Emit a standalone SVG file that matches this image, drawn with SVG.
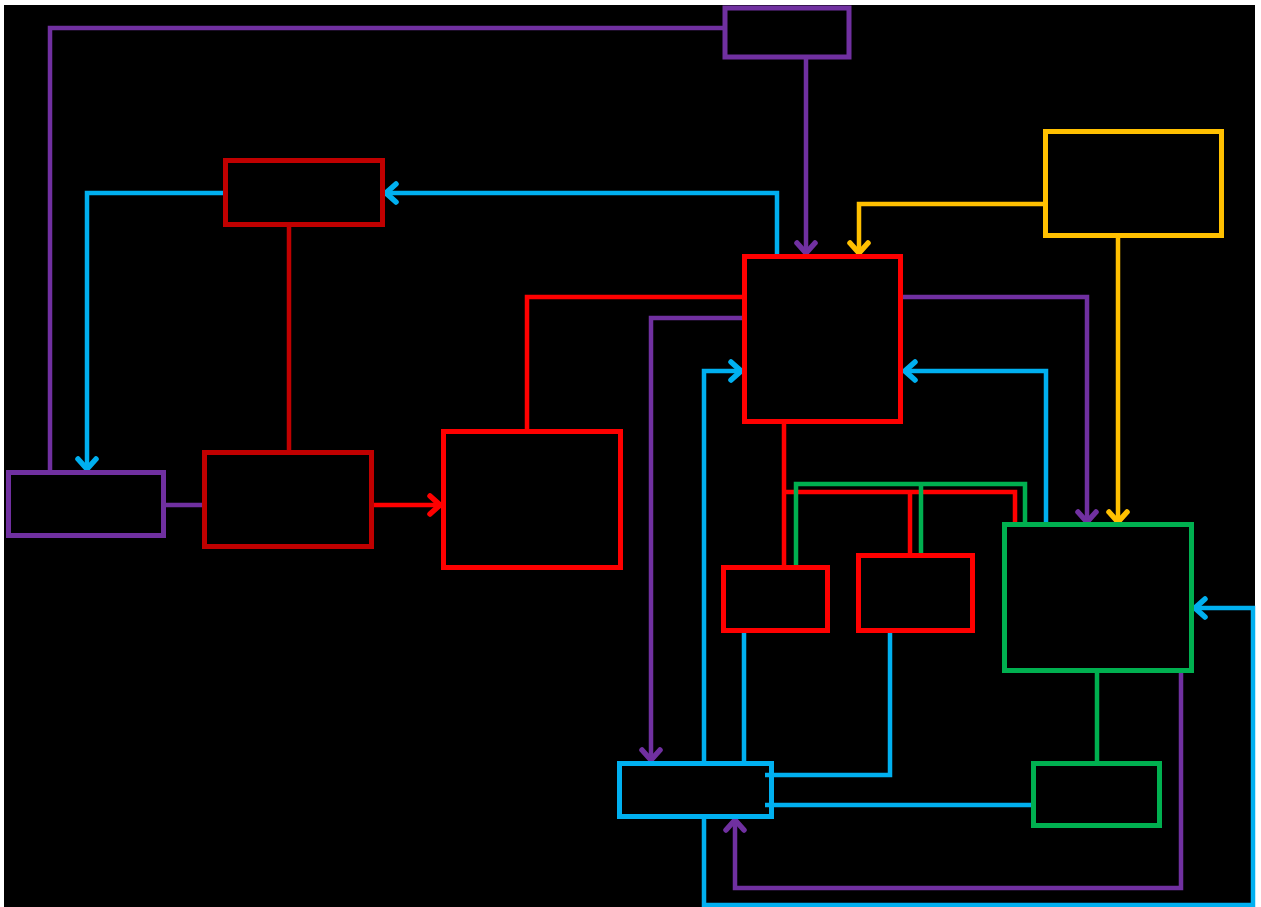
<svg xmlns="http://www.w3.org/2000/svg" width="1261" height="907" viewBox="0 0 1261 907">
<style>
.box{fill:none;stroke-width:5}
.c{fill:none;stroke-width:4.5;stroke-linejoin:miter}
.pu{stroke:#7030A0}.cy{stroke:#00B0F0}.rd{stroke:#FF0000}.dr{stroke:#C00000}.gr{stroke:#00B050}.ye{stroke:#FFC000}
</style>
<defs>
<marker id="aPu" viewBox="-14 -12 16 24" markerWidth="16" markerHeight="24" refX="0" refY="0" orient="auto" markerUnits="userSpaceOnUse"><path d="M-10,-9 L0,0 L-10,9" fill="none" stroke="#7030A0" stroke-width="5.5" stroke-linecap="round" stroke-linejoin="miter"/></marker>
<marker id="aCy" viewBox="-14 -12 16 24" markerWidth="16" markerHeight="24" refX="0" refY="0" orient="auto" markerUnits="userSpaceOnUse"><path d="M-10,-9 L0,0 L-10,9" fill="none" stroke="#00B0F0" stroke-width="5.5" stroke-linecap="round" stroke-linejoin="miter"/></marker>
<marker id="aRd" viewBox="-14 -12 16 24" markerWidth="16" markerHeight="24" refX="0" refY="0" orient="auto" markerUnits="userSpaceOnUse"><path d="M-10,-9 L0,0 L-10,9" fill="none" stroke="#FF0000" stroke-width="5.5" stroke-linecap="round" stroke-linejoin="miter"/></marker>
<marker id="aYe" viewBox="-14 -12 16 24" markerWidth="16" markerHeight="24" refX="0" refY="0" orient="auto" markerUnits="userSpaceOnUse"><path d="M-10,-9 L0,0 L-10,9" fill="none" stroke="#FFC000" stroke-width="5.5" stroke-linecap="round" stroke-linejoin="miter"/></marker>
</defs>
<rect x="0" y="0" width="1261" height="907" fill="#FFFFFF"/>
<rect x="4" y="5" width="1251" height="902" fill="#000000"/>
<g id="connectors">
<path class="c pu" d="M725,28 H50 V472"/>
<path class="c pu" d="M806,57 V253" marker-end="url(#aPu)"/>
<path class="c ye" d="M1045,204 H859 V253" marker-end="url(#aYe)"/>
<path class="c ye" d="M1118,236 V522" marker-end="url(#aYe)"/>
<path class="c cy" d="M777,256 V193 H386" marker-end="url(#aCy)"/>
<path class="c cy" d="M225,193 H87 V469" marker-end="url(#aCy)"/>
<path class="c pu" d="M164,505 H204"/>
<path class="c dr" d="M289,225 V452"/>
<path class="c rd" d="M372,505 H440" marker-end="url(#aRd)"/>
<path class="c rd" d="M527,431 V297 H744"/>
<path class="c pu" d="M744,318 H651 V760" marker-end="url(#aPu)"/>
<path class="c cy" d="M704,763 V371 H741" marker-end="url(#aCy)"/>
<path class="c pu" d="M902,297 H1087 V522" marker-end="url(#aPu)"/>
<path class="c cy" d="M1046,524 V371 H905" marker-end="url(#aCy)"/>
<path class="c rd" d="M784,422 V567"/>
<path class="c rd" d="M784,492 H1015 V524"/>
<path class="c rd" d="M910,492 V555"/>
<path class="c gr" d="M796,567 V484 H1025 V524"/>
<path class="c gr" d="M921,484 V555"/>
<path class="c gr" d="M1097,671 V763"/>
<path class="c cy" d="M744,631 V763"/>
<path class="c cy" d="M890,631 V775 H765"/>
<path class="c cy" d="M1033,805 H765"/>
<path class="c cy" d="M704,817 V905 H1253 V608 H1195" marker-end="url(#aCy)"/>
<path class="c pu" d="M1181,671 V888 H735 V820" marker-end="url(#aPu)"/>
</g>
<g id="node-top-purple"><rect class="box pu" x="725" y="8" width="124" height="49"/></g>
<g id="node-main-red"><rect class="box rd" x="744.5" y="256.5" width="156" height="165"/></g>
<g id="node-yellow"><rect class="box ye" x="1045.5" y="131.5" width="176" height="104"/></g>
<g id="node-darkred-1"><rect class="box dr" x="225.5" y="160.5" width="157" height="64"/></g>
<g id="node-darkred-2"><rect class="box dr" x="204.5" y="452.5" width="167" height="94"/></g>
<g id="node-left-purple"><rect class="box pu" x="8.5" y="472.5" width="155" height="63"/></g>
<g id="node-red-3"><rect class="box rd" x="443.5" y="431.5" width="177" height="136"/></g>
<g id="node-red-small-1"><rect class="box rd" x="723.5" y="567.5" width="104" height="63"/></g>
<g id="node-red-small-2"><rect class="box rd" x="858.5" y="555.5" width="114" height="75"/></g>
<g id="node-green-big"><rect class="box gr" x="1004.5" y="524.5" width="187" height="146"/></g>
<g id="node-green-small"><rect class="box gr" x="1033.5" y="763.5" width="126" height="62"/></g>
<g id="node-cyan"><rect class="box cy" x="619.5" y="763.5" width="152" height="53"/></g>
</svg>
